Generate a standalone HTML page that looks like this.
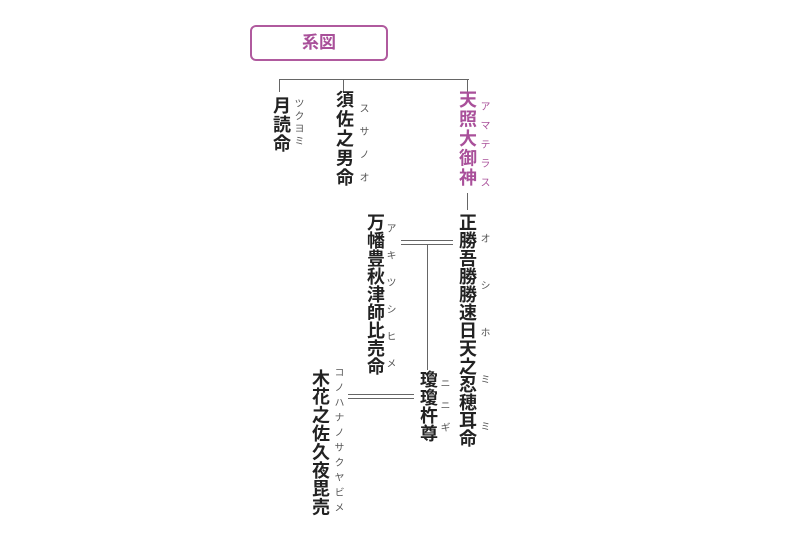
<!DOCTYPE html>
<html><head><meta charset="utf-8"><style>
body{margin:0;width:800px;height:533px;background:#fff;position:relative;overflow:hidden;font-family:"Liberation Sans","Noto Sans CJK JP",sans-serif}
.v{position:absolute;writing-mode:vertical-rl;white-space:nowrap;line-height:1;}
.m{font-size:18px;font-weight:bold;color:#222;}
.f{font-size:10px;color:#555;}
.l{position:absolute;background:#666;}
</style></head><body>
<div style="position:absolute;left:250px;top:25px;width:134px;height:32px;border:2px solid #b05a9e;border-radius:6px;color:#a9509a;font-size:17px;font-weight:bold;text-align:center;line-height:32px">系図</div>
<div class="l" style="left:279px;top:79px;width:190px;height:1.2px"></div>
<div class="l" style="left:279px;top:79px;width:1.2px;height:13px"></div>
<div class="l" style="left:343px;top:79px;width:1.2px;height:13px"></div>
<div class="l" style="left:467px;top:79px;width:1.2px;height:13px"></div>

<div class="v m" style="left:272px;top:96px;letter-spacing:1px">月読命</div>
<div class="v f" style="left:292px;top:98px;letter-spacing:2.5px">ツクヨミ</div>
<div class="v m" style="left:335px;top:90px;letter-spacing:1.6px">須佐之男命</div>
<div class="v f" style="left:357px;top:103px;letter-spacing:13px">スサノオ</div>
<div class="v m" style="left:458px;top:90px;letter-spacing:1.6px;color:#a9509a">天照大御神</div>
<div class="v f" style="left:478px;top:101px;letter-spacing:9px;color:#a9509a">アマテラス</div>

<div class="l" style="left:467px;top:193px;width:1.2px;height:17px"></div>
<div class="v m" style="left:458px;top:213px">正勝吾勝勝速日天之忍穂耳命</div>
<div class="v f" style="left:478px;top:233px;letter-spacing:37px">オシホミミ</div>

<div class="v m" style="left:366px;top:213px">万幡豊秋津師比売命</div>
<div class="v f" style="left:384px;top:223px;letter-spacing:17px">アキツシヒメ</div>

<div class="l" style="left:401px;top:240px;width:52px;height:1.2px"></div>
<div class="l" style="left:401px;top:244px;width:52px;height:1.2px"></div>
<div class="l" style="left:427px;top:244px;width:1.2px;height:126px"></div>

<div class="v m" style="left:419px;top:370px">瓊瓊杵尊</div>
<div class="v f" style="left:438px;top:378px;letter-spacing:12px">ニニギ</div>

<div class="l" style="left:348px;top:394px;width:66px;height:1.2px"></div>
<div class="l" style="left:348px;top:398px;width:66px;height:1.2px"></div>

<div class="v m" style="left:311px;top:369px;letter-spacing:0.4px">木花之佐久夜毘売</div>
<div class="v f" style="left:332px;top:367px;letter-spacing:5px">コノハナノサクヤビメ</div>
</body></html>
